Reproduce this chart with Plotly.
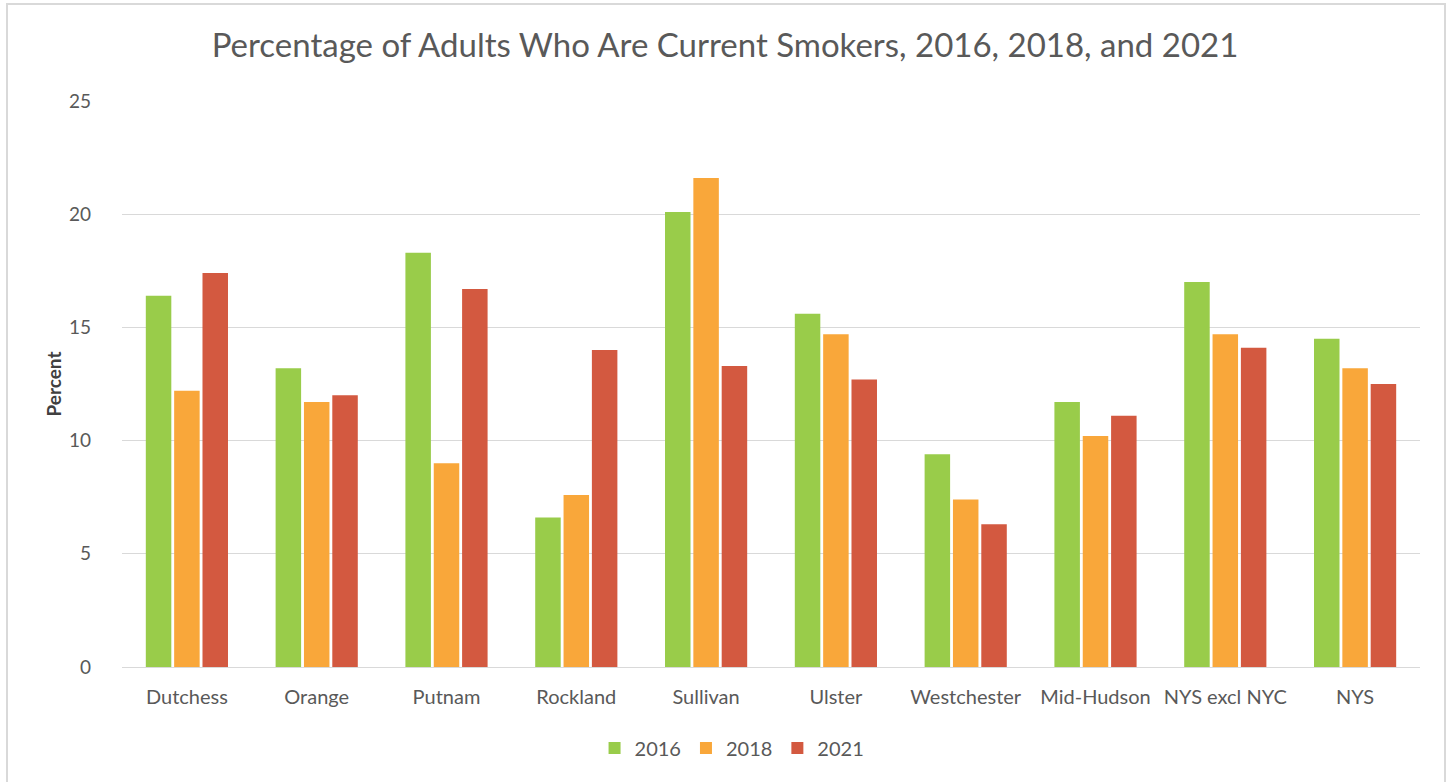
import plotly.graph_objects as go

categories = ["Dutchess", "Orange", "Putnam", "Rockland", "Sullivan", "Ulster",
              "Westchester", "Mid-Hudson", "NYS excl NYC", "NYS"]
y2016 = [16.4, 13.2, 18.3, 6.6, 20.1, 15.6, 9.4, 11.7, 17.0, 14.5]
y2018 = [12.2, 11.7, 9.0, 7.6, 21.6, 14.7, 7.4, 10.2, 14.7, 13.2]
y2021 = [17.4, 12.0, 16.7, 14.0, 13.3, 12.7, 6.3, 11.1, 14.1, 12.5]
series_names = ["2016", "2018", "2021"]
colors = ["#99CC4A", "#F9A73A", "#D35940"]
y_ticks = [0, 5, 10, 15, 20, 25]

FONT = "Lato"
GREY = "#595959"

fig = go.Figure()
for name, vals, col in zip(series_names, [y2016, y2018, y2021], colors):
    fig.add_trace(go.Bar(name=name, x=categories, y=vals, marker_color=col,
                         marker_line_width=0))

fig.update_layout(
    width=1450, height=782,
    paper_bgcolor="white", plot_bgcolor="white",
    margin=dict(l=122, r=30, t=101, b=115),
    barmode="group", bargap=0.345, bargroupgap=0.1,
    font=dict(family=FONT, color=GREY),
    title=dict(text="Percentage of Adults Who Are Current Smokers, 2016, 2018, and 2021",
               x=0.5, xanchor="center", y=0.942, yanchor="middle",
               font=dict(family=FONT, size=33, color=GREY)),
    legend=dict(orientation="h", x=0.47, xanchor="center", y=-0.143, yanchor="middle",
                font=dict(family=FONT, size=20, color=GREY), itemwidth=30,
                traceorder="normal"),
    showlegend=True,
)
fig.update_yaxes(range=[0, 25], tickvals=y_ticks, showgrid=True, gridcolor="#D9D9D9",
                 gridwidth=1, zeroline=False, showline=False,
                 tickfont=dict(family=FONT, size=19, color=GREY),
                 ticklabelstandoff=30,
                 title=dict(text="<b>Percent</b>", standoff=2,
                            font=dict(family=FONT, size=19, color="#404040")))
fig.update_xaxes(showline=True, linecolor="#D9D9D9", linewidth=1, showgrid=False,
                 tickfont=dict(family=FONT, size=20, color=GREY),
                 ticklabelstandoff=12)

# outer chart frame
fig.add_shape(type="rect", xref="paper", yref="paper",
              x0=(7 - 122) / 1298, x1=(1445 - 122) / 1298,
              y0=(667 - 790) / 566, y1=(667 - 4) / 566,
              line=dict(color="#D9D9D9", width=2), fillcolor="rgba(0,0,0,0)",
              layer="below")

fig.write_html("out.html", config={"displayModeBar": False},
               post_script="document.body.style.margin='0px';document.body.style.overflow='hidden';")
